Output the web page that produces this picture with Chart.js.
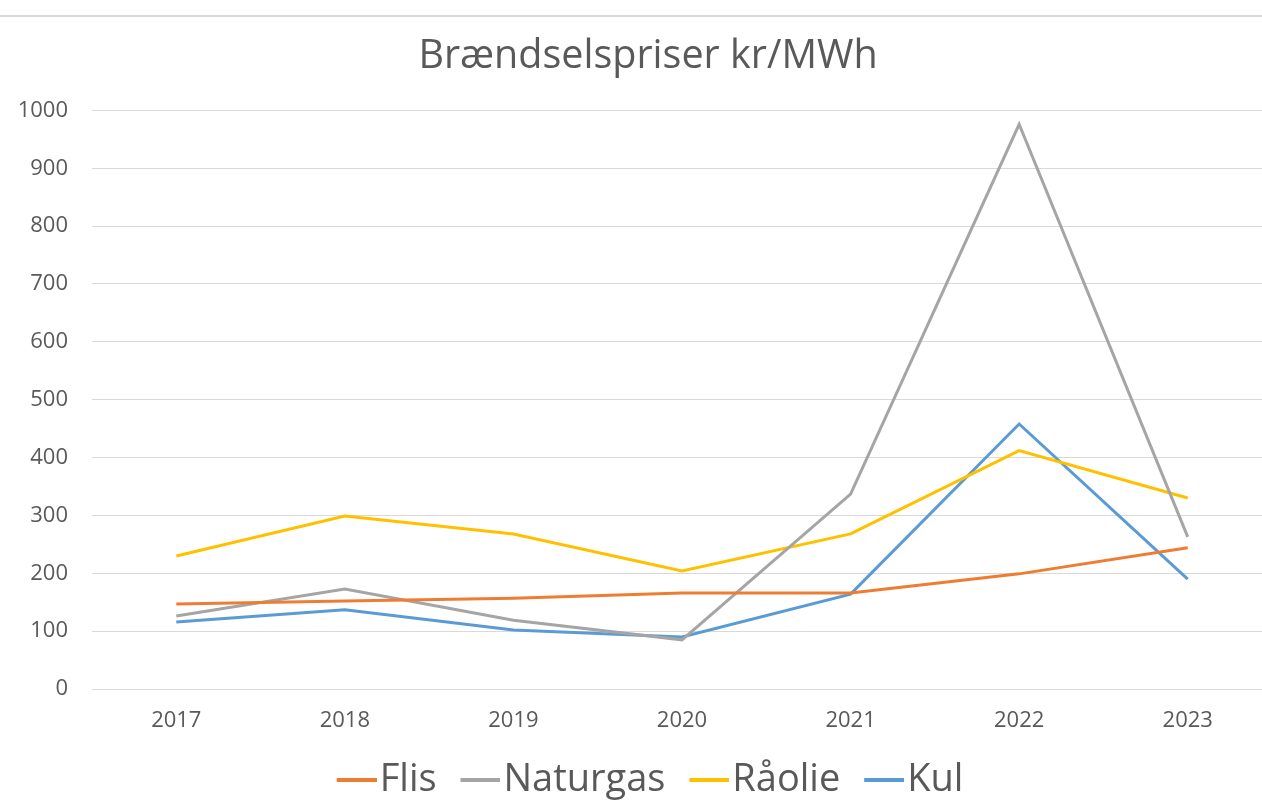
<!DOCTYPE html>
<html>
<head>
<meta charset="utf-8">
<script src="https://cdn.jsdelivr.net/npm/chart.js@4/dist/chart.umd.min.js"></script>
<style>
  html, body { margin: 0; padding: 0; background: #fff; overflow: hidden; width: 1262px; height: 804px; }
  #wrap { position: absolute; left: 0; top: 15px; width: 1296px; height: 794px; border-top: 2px solid #d9d9d9; }
</style>
</head>
<body>
<div id="wrap"><canvas id="chart" width="1296" height="792"></canvas></div>
<script>
const years = ['2017', '2018', '2019', '2020', '2021', '2022', '2023'];
const flis = [147, 152, 157, 166, 166, 199, 244];
const naturgas = [126, 173, 119, 85, 337, 976, 263];
const raaolie = [230, 299, 268, 204, 268, 412, 330];
const kul = [116, 137, 102, 90, 164, 458, 190];

const fontName = "'Open Sans', 'Noto Sans', sans-serif";

// legend line sample: 40px line in the right part of a 60px image, so it ends right before the text
function legendLine(color){
    const c = document.createElement('canvas');
    c.width = 60;
    c.height = 4;
    const ctx = c.getContext('2d');
    ctx.fillStyle = color;
    ctx.fillRect(20, 0, 40, 4);
    return c;
}

new Chart(document.getElementById('chart'),
    {
        type : 'line',
        data : {
            labels : years,
            datasets : [
                { label : 'Flis', data : flis, borderColor : '#ED7D31', backgroundColor : '#ED7D31' },
                { label : 'Naturgas', data : naturgas, borderColor : '#A5A5A5', backgroundColor : '#A5A5A5' },
                { label : 'Råolie', data : raaolie, borderColor : '#FFC000', backgroundColor : '#FFC000' },
                { label : 'Kul', data : kul, borderColor : '#5B9BD5', backgroundColor : '#5B9BD5' }
            ]
        },
        options : {
            responsive : false,
            animation : false,
            layout : { padding : 0 },
            elements : {
                line : { borderWidth : 3, tension : 0 },
                point : { radius : 0 }
            },
            scales : {
                x : {
                    offset : true,
                    grid : { display : false, drawTicks : false },
                    border : { display : false },
                    ticks : { color : '#595959', font : { family : fontName, size : 22 }, padding : 19 },
                    afterFit : function(scale){ scale.height = 62 }
                },
                y : {
                    min : 0,
                    max : 1000,
                    ticks : {
                        stepSize : 100,
                        color : '#595959',
                        font : { family : fontName, size : 22 },
                        padding : 24,
                        callback : function(v){ return String(v) }
                    },
                    grid : { color : '#d9d9d9', lineWidth : 1, drawTicks : false },
                    border : { display : false },
                    afterFit : function(scale){ scale.width = 92 }
                },
                // empty spacer on the right so the plot stops short of the canvas edge
                yRight : {
                    position : 'right',
                    ticks : { display : false },
                    grid : { display : false, drawTicks : false },
                    border : { display : false },
                    afterFit : function(scale){ scale.width = 24 }
                }
            },
            plugins : {
                title : {
                    display : true,
                    text : 'Brændselspriser kr/MWh',
                    color : '#595959',
                    font : { family : fontName, size : 39.5, weight : 'normal' },
                    padding : { top : 16, bottom : 30 }
                },
                legend : {
                    position : 'bottom',
                    labels : {
                        usePointStyle : true,
                        pointStyleWidth : 28,
                        color : '#595959',
                        font : { family : fontName, size : 38 },
                        padding : 10,
                        generateLabels : function(chart){
                            const items = Chart.defaults.plugins.legend.labels.generateLabels(chart);
                            items.forEach(function(item, i){
                                const ds = chart.data.datasets[item.datasetIndex];
                                item.pointStyle = legendLine(ds.borderColor);
                                if (i < items.length - 1) item.text = item.text + ' ';
                            });
                            return items;
                        }
                    }
                },
                tooltip : { enabled : false }
            }
        }
    }
)
</script>
</body>
</html>
